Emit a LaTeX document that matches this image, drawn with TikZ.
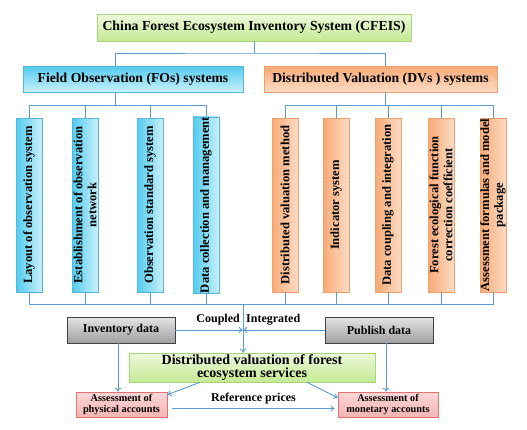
\documentclass[tikz,border=0pt]{standalone}
\usepackage{fontspec}
\setmainfont{Liberation Serif}
\usetikzlibrary{shadows,arrows.meta}

\begin{document}
\begin{tikzpicture}[x=1pt,y=-1pt,font=\bfseries\fontsize{12}{13}\selectfont,
    link/.style={draw=wire,line width=0.9pt},
    arr/.style={link,-{To[length=4pt,width=6pt]}},
    box/.style={draw,line width=0.6pt,inner sep=1pt,align=center,
      drop shadow={opacity=0.3,shadow xshift=1.2pt,shadow yshift=-1.2pt}},
    greenbox/.style={box,draw=leafline,top color=leaftop,bottom color=leafbot},
    cyanbox/.style={box,draw=skyline,top color=skytop,bottom color=skybot},
    orangebox/.style={box,draw=peachline,top color=peachtop,bottom color=peachbot},
    graybox/.style={box,draw=ink,top color=stonetop,bottom color=stonebot},
    pinkbox/.style={box,draw=roseline,top color=rosetop,bottom color=rosebot},
    subbox/.style={rotate=90,minimum width=174pt,minimum height=26pt,inner sep=0pt,
      font=\bfseries\fontsize{12.6}{13.8}\selectfont}]
  \definecolor{wire}{HTML}{5B9BD5}
  \definecolor{ink}{HTML}{404040}
  \definecolor{leafline}{HTML}{A6D47A}
  \definecolor{leaftop}{HTML}{EEF9DC}
  \definecolor{leafbot}{HTML}{C4EA94}
  \definecolor{skyline}{HTML}{58B6DA}
  \definecolor{skytop}{HTML}{52CBEE}
  \definecolor{skybot}{HTML}{C9F0FB}
  \definecolor{peachline}{HTML}{EFA070}
  \definecolor{peachtop}{HTML}{F8AA76}
  \definecolor{peachbot}{HTML}{FCDCC4}
  \definecolor{stonetop}{HTML}{E4E4E4}
  \definecolor{stonebot}{HTML}{A0A0A0}
  \definecolor{roseline}{HTML}{E07272}
  \definecolor{rosetop}{HTML}{FBD6D6}
  \definecolor{rosebot}{HTML}{F4B4B4}
  \path[use as bounding box] (0,0) rectangle (527,429);
  % top level
  \node[greenbox,minimum width=314pt,minimum height=27pt,
        font=\bfseries\fontsize{13.8}{15}\selectfont] (cfeis) at (254,27.5)
    {China Forest Ecosystem Inventory System (CFEIS)};
  \node[cyanbox,minimum width=220pt,minimum height=26pt,
        font=\bfseries\fontsize{13.7}{15}\selectfont] (fos) at (133,79)
    {Field Observation (FOs) systems};
  \node[orangebox,minimum width=233pt,minimum height=26pt,
        font=\bfseries\fontsize{13.7}{15}\selectfont] (dvs) at (380.5,79)
    {Distributed Valuation (DVs ) systems};
  \coordinate (topjoin) at (cfeis.south |- 0,53);
  \draw[link] (cfeis.south) -- (topjoin);
  \draw[link] ([xshift=-18pt]fos.north) |- (topjoin) -| ([xshift=4.5pt]dvs.north);
  % second level
  \foreach \x/\nm/\lab in {29/fo1/{Layout of observation system},
      85/fo2/{Establishment of observation\\network},
      150/fo3/{Observation standard system},
      206/fo4/{Data collection and management}}{
    \node[box,subbox,draw=skyline,left color=skytop,right color=skybot] (\nm) at (\x,205) {\lab};
  }
  \foreach \x/\nm/\lab in {285/dv1/{Distributed valuation method},
      336/dv2/{Indicator system},
      388/dv3/{Data coupling and integration},
      441/dv4/{Forest ecological function\\correction coefficient},
      493/dv5/{Assessment formulas and model\\package}}{
    \node[box,subbox,draw=peachline,left color=peachtop,right color=peachbot] (\nm) at (\x,205) {\lab};
  }
  \coordinate (fojoin) at ([xshift=-18pt]fos.south |- 0,105);
  \coordinate (dvjoin) at ([xshift=4.5pt]dvs.south |- 0,105);
  \draw[link] ([xshift=-18pt]fos.south) -- (fojoin);
  \draw[link] ([xshift=4.5pt]dvs.south) -- (dvjoin);
  \foreach \nm in {fo1,fo2,fo3,fo4}{\draw[link] (fojoin) -| (\nm.east);}
  \foreach \nm in {dv1,dv2,dv3,dv4,dv5}{\draw[link] (dvjoin) -| (\nm.east);}
  % bottom level
  \coordinate (botjoin) at (243,304);
  \foreach \nm in {fo1,fo2,fo3,fo4,dv1,dv2,dv3,dv4,dv5}{\draw[link] (\nm.west) |- (botjoin);}
  \node[graybox,minimum width=108pt,minimum height=26pt] (invdata) at (121,330) {Inventory data};
  \node[graybox,minimum width=108pt,minimum height=26pt] (pubdata) at (379,330) {Publish data};
  \node[greenbox,minimum width=246pt,minimum height=29pt,align=center,inner sep=0pt,
        font=\bfseries\fontsize{14}{13.5}\selectfont] (dvfes) at (252,367.5)
    {Distributed valuation of forest\\ecosystem services};
  \node[pinkbox,minimum width=91pt,minimum height=25pt,inner sep=0pt,
        font=\bfseries\fontsize{10.3}{11.5}\selectfont] (physacc) at (121.5,404.5)
    {Assessment of\\physical accounts};
  \node[pinkbox,minimum width=100pt,minimum height=25pt,inner sep=0pt,
        font=\bfseries\fontsize{10.3}{11.5}\selectfont] (monacc) at (388,404.5)
    {Assessment of\\monetary accounts};
  \draw[arr] (botjoin) -- (botjoin |- dvfes.north);
  \draw[arr] (invdata.east) -- (botjoin |- invdata.east);
  \draw[arr] (pubdata.west) -- (botjoin |- pubdata.west);
  \node[anchor=south east,inner sep=1pt] (coupled) at ([xshift=-2pt,yshift=4pt]botjoin |- invdata.east) {Coupled};
  \node[anchor=south west,inner sep=1pt] (integr) at ([xshift=2pt,yshift=4pt]botjoin |- pubdata.west) {Integrated};
  \draw[arr] ([xshift=-3pt]invdata.south) -- ([xshift=-3pt]invdata.south |- physacc.north);
  \draw[arr] ([xshift=7pt]pubdata.south) -- ([xshift=7pt]pubdata.south |- monacc.north);
  \draw[arr] ([xshift=-52pt]dvfes.south) -- ([yshift=-3pt]physacc.north east);
  \draw[arr] ([xshift=55pt]dvfes.south) -- ([yshift=-6pt]monacc.north west);
  \draw[arr] ([xshift=5pt,yshift=-4pt]physacc.east) -- ([xshift=-3pt,yshift=-4pt]monacc.west)
    node[midway,above=1pt] (refprice) {Reference prices};
\end{tikzpicture}
\end{document}
